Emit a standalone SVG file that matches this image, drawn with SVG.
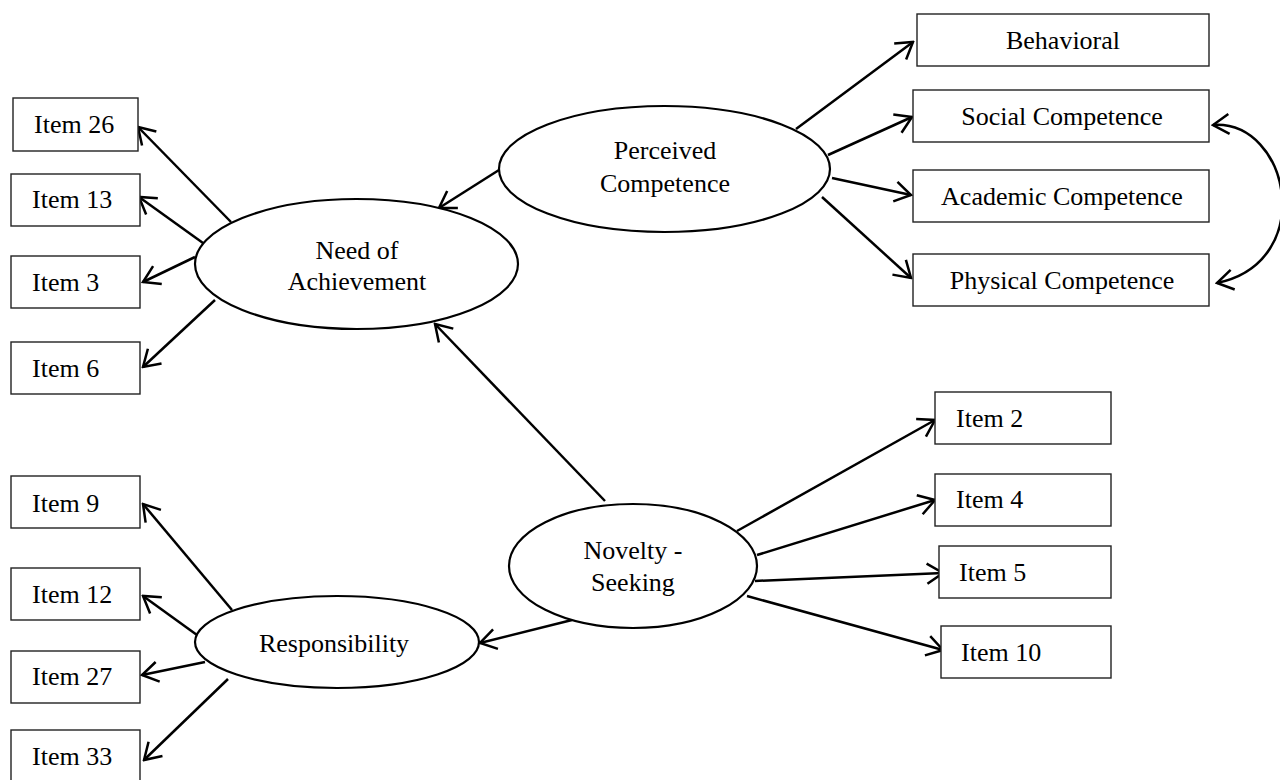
<svg xmlns="http://www.w3.org/2000/svg" width="1280" height="780" viewBox="0 0 1280 780">
<style>
  .box rect { fill: #fff; stroke: #222; stroke-width: 1.4; }
  .lat ellipse { fill: #fff; stroke: #000; stroke-width: 2.2; }
  text { font-family: "Liberation Serif", "Times New Roman", serif; font-size: 26px; fill: #000; }
  .c { text-anchor: middle; }
  .edges line, .edges path { stroke: #000; stroke-width: 2.5; fill: none; marker-end: url(#arr); }
</style>
<defs>
  <marker id="arr" viewBox="-20 -12 22 24" refX="0" refY="0" markerWidth="22" markerHeight="24" markerUnits="userSpaceOnUse" orient="auto-start-reverse">
    <path d="M-16,-10 L0,0 L-16,10" fill="none" stroke="#000" stroke-width="2.5"/>
  </marker>
</defs>
<rect width="1280" height="780" fill="#fff"/>

<g class="edges" id="connectors">
  <line x1="499" y1="170" x2="439" y2="208"/>
  <line x1="796" y1="129" x2="913" y2="42"/>
  <line x1="828" y1="155" x2="912" y2="117"/>
  <line x1="832" y1="178" x2="911" y2="195"/>
  <line x1="822" y1="197" x2="911" y2="278"/>
  <path d="M1213,125 C1290,120 1318,262 1217,283" style="marker-start:url(#arr)"/>
  <line x1="231" y1="222" x2="138" y2="127"/>
  <line x1="203" y1="243" x2="139" y2="197"/>
  <line x1="195" y1="257" x2="143" y2="282"/>
  <line x1="215" y1="300" x2="143" y2="367"/>
  <line x1="605" y1="501" x2="435" y2="324"/>
  <line x1="572" y1="620" x2="480" y2="643"/>
  <line x1="737" y1="531" x2="935" y2="420"/>
  <line x1="757" y1="555" x2="935" y2="500"/>
  <line x1="755" y1="581" x2="943" y2="573"/>
  <line x1="747" y1="596" x2="943" y2="650"/>
  <line x1="232" y1="610" x2="143" y2="504"/>
  <line x1="197" y1="635" x2="143" y2="596"/>
  <line x1="205" y1="662" x2="142" y2="675"/>
  <line x1="228" y1="679" x2="144" y2="760"/>
</g>

<g class="lat" id="perceived">
  <ellipse cx="664.5" cy="169" rx="165.5" ry="63"/>
  <text class="c" x="665" y="159">Perceived</text>
  <text class="c" x="665" y="192">Competence</text>
</g>
<g class="lat" id="need">
  <ellipse cx="356.5" cy="264" rx="161.5" ry="65"/>
  <text class="c" x="357" y="259">Need of</text>
  <text class="c" x="357" y="290">Achievement</text>
</g>
<g class="lat" id="novelty">
  <ellipse cx="633" cy="566" rx="124" ry="62"/>
  <text class="c" x="633" y="559">Novelty -</text>
  <text class="c" x="633" y="591">Seeking</text>
</g>
<g class="lat" id="responsibility">
  <ellipse cx="337" cy="642" rx="142" ry="46"/>
  <text class="c" x="334" y="652">Responsibility</text>
</g>

<g class="box" id="behavioral"><rect x="917" y="14" width="292" height="52"/><text class="c" x="1063" y="49">Behavioral</text></g>
<g class="box" id="social"><rect x="913" y="90" width="296" height="52"/><text class="c" x="1062" y="125">Social Competence</text></g>
<g class="box" id="academic"><rect x="913" y="170" width="296" height="52"/><text class="c" x="1062" y="205">Academic Competence</text></g>
<g class="box" id="physical"><rect x="913" y="254" width="296" height="52"/><text class="c" x="1062" y="289">Physical Competence</text></g>

<g class="box" id="item26"><rect x="13" y="98" width="125" height="53"/><text x="34" y="133">Item 26</text></g>
<g class="box" id="item13"><rect x="11" y="174" width="129" height="52"/><text x="32" y="208">Item 13</text></g>
<g class="box" id="item3"><rect x="11" y="256" width="129" height="52"/><text x="32" y="291">Item 3</text></g>
<g class="box" id="item6"><rect x="11" y="342" width="129" height="52"/><text x="32" y="377">Item 6</text></g>

<g class="box" id="item9"><rect x="11" y="476" width="129" height="52"/><text x="32" y="512">Item 9</text></g>
<g class="box" id="item12"><rect x="11" y="568" width="129" height="52"/><text x="32" y="603">Item 12</text></g>
<g class="box" id="item27"><rect x="11" y="651" width="129" height="52"/><text x="32" y="685">Item 27</text></g>
<g class="box" id="item33"><rect x="11" y="730" width="129" height="52"/><text x="32" y="765">Item 33</text></g>

<g class="box" id="item2"><rect x="935" y="392" width="176" height="52"/><text x="956" y="427">Item 2</text></g>
<g class="box" id="item4"><rect x="935" y="474" width="176" height="52"/><text x="956" y="508">Item 4</text></g>
<g class="box" id="item5"><rect x="939" y="546" width="172" height="52"/><text x="959" y="581">Item 5</text></g>
<g class="box" id="item10"><rect x="941" y="626" width="170" height="52"/><text x="961" y="661">Item 10</text></g>
</svg>
